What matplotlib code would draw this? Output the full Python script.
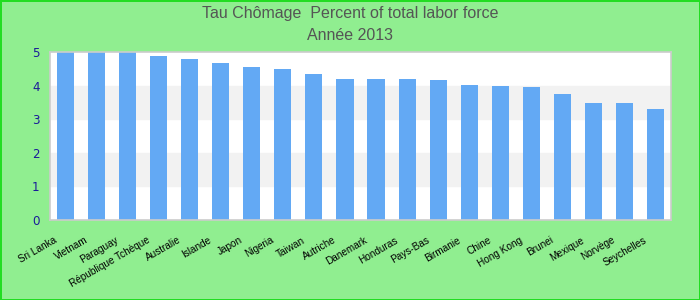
import matplotlib.pyplot as plt
import matplotlib.transforms as mtransforms
import numpy as np

# données
pays = ["Sri Lanka", "Vietnam", "Paraguay", "République Tchèque", "Australie",
        "Islande", "Japon", "Nigeria", "Taiwan", "Autriche", "Danemark",
        "Honduras", "Pays-Bas", "Birmanie", "Chine", "Hong Kong", "Brunei",
        "Mexique", "Norvège", "Seychelles"]
chomage = [5.0, 5.0, 5.0, 4.88, 4.79, 4.67, 4.56, 4.5, 4.35, 4.2, 4.2,
           4.2, 4.17, 4.02, 3.99, 3.96, 3.76, 3.49, 3.49, 3.31]
yticks = [0, 1, 2, 3, 4, 5]

plt.rcParams['font.family'] = ['Liberation Sans', 'DejaVu Sans']

fig = plt.figure(figsize=(7, 3), dpi=100)
fig.patch.set_facecolor('#90ee90')
fig.patch.set_edgecolor('#22dd22')
fig.patch.set_linewidth(2)

ax = fig.add_axes([50/700, 80/300, 621/700, 168/300])
ax.set_facecolor('white')

# bandes alternées
for i in range(len(yticks) - 1):
    if i % 2 == 1:
        ax.axhspan(yticks[i], yticks[i+1], color='#f2f2f2', zorder=0)

x = np.arange(len(pays))
ax.bar(x, chomage, width=0.55, color='#63a9f4', zorder=2)

ax.set_xlim(-0.5, len(pays) - 0.5)
ax.set_ylim(0, 5)
ax.set_yticks(yticks)
ax.set_yticklabels([str(v) for v in yticks], color='#1a1a99', fontsize=8.6,
                   family='DejaVu Sans')
ax.set_xticks(x)
ax.set_xticklabels(pays, rotation=30, ha='right', va='baseline',
                   fontsize=7.2, rotation_mode='anchor')
ax.tick_params(axis='both', length=0)
ax.tick_params(axis='y', pad=7.5)
ax.tick_params(axis='x', pad=15.8)
decal = mtransforms.ScaledTranslation(-6/72, 0, fig.dpi_scale_trans)
for lab in ax.get_xticklabels():
    lab.set_transform(lab.get_transform() + decal)
for s in ax.spines.values():
    s.set_color('#cccccc')
    s.set_linewidth(1.2)

fig.text(0.5, 0.955, "Tau Chômage  Percent of total labor force", ha='center',
         va='center', fontsize=11.5, color='#555555')
fig.text(0.5, 0.88, "Année 2013", ha='center', va='center',
         fontsize=11.5, color='#555555')

plt.savefig("out.png", facecolor=fig.get_facecolor(),
            edgecolor=fig.get_edgecolor())
